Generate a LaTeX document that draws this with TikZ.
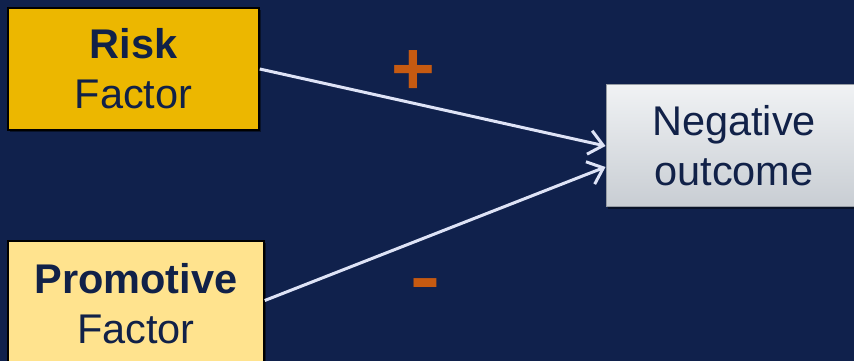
\documentclass[tikz,border=0pt]{standalone}
\usepackage{fontspec}
\setmainfont{Liberation Sans}
\usetikzlibrary{arrows.meta,shadows}
\definecolor{NightBlue}{RGB}{16,33,76}
\definecolor{InkBlue}{RGB}{17,33,72}
\definecolor{RiskGold}{RGB}{236,183,0}
\definecolor{PromoCream}{RGB}{255,227,142}
\definecolor{CloudTop}{RGB}{240,242,244}
\definecolor{CloudBottom}{RGB}{200,205,211}
\definecolor{CloudEdge}{RGB}{150,156,164}
\definecolor{ArrowMist}{RGB}{222,227,246}
\definecolor{SignOrange}{RGB}{198,90,17}

\begin{document}
\begin{tikzpicture}[
          x=1pt,y=1pt,
          fbox/.style={draw=black,line width=1.5pt,inner sep=0pt,align=center,
                       font=\fontsize{41.5}{50}\selectfont,text=InkBlue,
                       drop shadow={shadow xshift=2pt,shadow yshift=-2pt,opacity=0.45,fill=black}},
          obox/.style={fbox,draw=CloudEdge,line width=1pt,top color=CloudTop,bottom color=CloudBottom},
          sign/.style={anchor=base,text=SignOrange,font=\fontsize{75}{75}\selectfont\bfseries},
          ar/.style={-{Straight Barb[length=14pt,width=24pt]},line width=3pt,ArrowMist}
        ]
          \fill[NightBlue] (0,0) rectangle (854,361);
          \useasboundingbox (0,0) rectangle (854,361);

          \node(risk)[fbox,fill=RiskGold,minimum width=251pt,minimum height=122pt] at (133.5,292)
            {\textbf{Risk}\\Factor};
          \node(promo)[fbox,fill=PromoCream,minimum width=256pt,minimum height=125pt] at (136,57.5)
            {\textbf{Promotive}\\Factor};
          \node(neg)[obox,minimum width=256pt,minimum height=122pt] at (734,215)
            {Negative\\outcome};

          \node(plus)[sign] at (413,266) {+};
          \node(minus)[sign,xscale=1.2] at (425,58) {-};

          \draw[ar] (risk.east) -- (neg.west);
          \draw[ar] ([yshift=3pt]promo.east) -- ([yshift=-21pt]neg.west);
        \end{tikzpicture}
\end{document}
